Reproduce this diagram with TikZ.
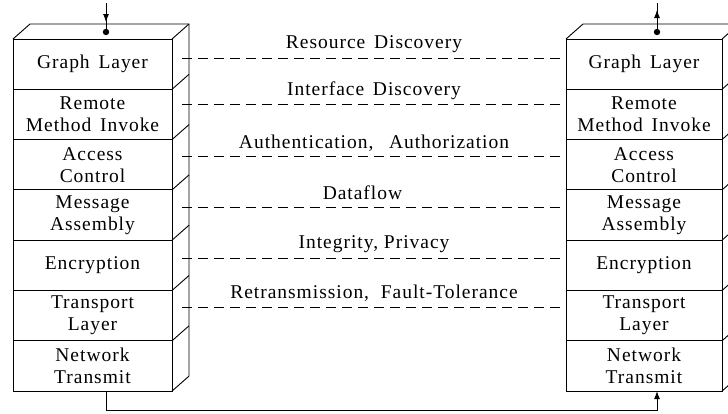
\documentclass[tikz,border=0pt]{standalone}
\usepackage{fontspec}
\setmainfont{Liberation Serif}[LetterSpace=5]
\usetikzlibrary{arrows.meta,calc}
\newcommand\boxfont{\fontsize{19.5}{22}\selectfont\spaceskip=0.45em plus 0.1em}
\begin{document}
\begin{tikzpicture}[x=1pt,y=-1pt,
  line width=0.9pt,
  laybox/.style={draw, minimum height=50.3pt, inner sep=0pt, outer sep=0pt,
    align=center, font=\boxfont, anchor=north west},
  leftbox/.style={laybox, minimum width=159pt},
  rightbox/.style={laybox, minimum width=156pt},
  dl/.style={dash pattern=on 10pt off 6pt},
  lbl/.style={midway, anchor=center, yshift=14pt, font=\boxfont, inner sep=0pt},
  tip/.style={-{Latex[length=8pt,width=6pt]}}]
\useasboundingbox (0,0) rectangle (728,413);
\clip (0,0) rectangle (728,413);
% stacks
\foreach \i/\t in {1/{Graph Layer},2/{Remote\\Method Invoke},3/{Access\\Control},4/{Message\\Assembly},5/{Encryption},6/{Transport\\Layer},7/{Network\\Transmit}}{
  \node[leftbox] (L\i) at (13,{39+(\i-1)*50.3}) {\t};
  \node[rightbox] (R\i) at (566,{39+(\i-1)*50.3}) {\t};
}
\draw (L1.north west) -- ++(17,-15) -- ($(L1.north east)+(17,-15)$) -- ($(L7.south east)+(17,-15)$) -- (L7.south east);
\draw (R1.north west) -- ++(17,-15) -- ($(R1.north east)+(17,-15)$) -- ($(R7.south east)+(17,-15)$) -- (R7.south east);
\foreach \i in {1,...,7}{
  \draw (L\i.north east) -- ++(17,-15);
  \draw (R\i.north east) -- ++(17,-15);
}
% dashed links
\foreach \i/\o/\t/\p in {1/6/{Resource Discovery}/0.5,2/10/{Interface Discovery}/0.5,3/8/{Authentication,\hspace{0.8em}Authorization}/0.5,4/8/{Dataflow}/0.47,5/7/{Integrity,\hspace{0.3em}Privacy}/0.5,6/8/{Retransmission,\hspace{0.6em}Fault-Tolerance}/0.5}{
  \draw[dl] ($(L\i.east)+(10,-\o)$) -- ($(R\i.west)+(0,-\o)$)
     node[lbl, pos=\p] {\t};
}
% top arrows
\coordinate (LA) at (106,3);
\coordinate (LB) at (106,32);
\coordinate (RA) at (657,3);
\coordinate (RB) at (657,32);
\draw (LA) -- (LB);
\draw[tip] (LA) -- (106,22);
\fill (LB) circle (3.2pt);
\draw (RA) -- (RB);
\draw[tip] (RB) -- (657,10);
\fill (RB) circle (3.2pt);
% bottom connector
\coordinate (LC) at (L7.south -| LA);
\coordinate (RC) at (R7.south -| RA);
\draw[tip] (LC) -- ++(0,19) -| (RC);
\end{tikzpicture}
\end{document}
